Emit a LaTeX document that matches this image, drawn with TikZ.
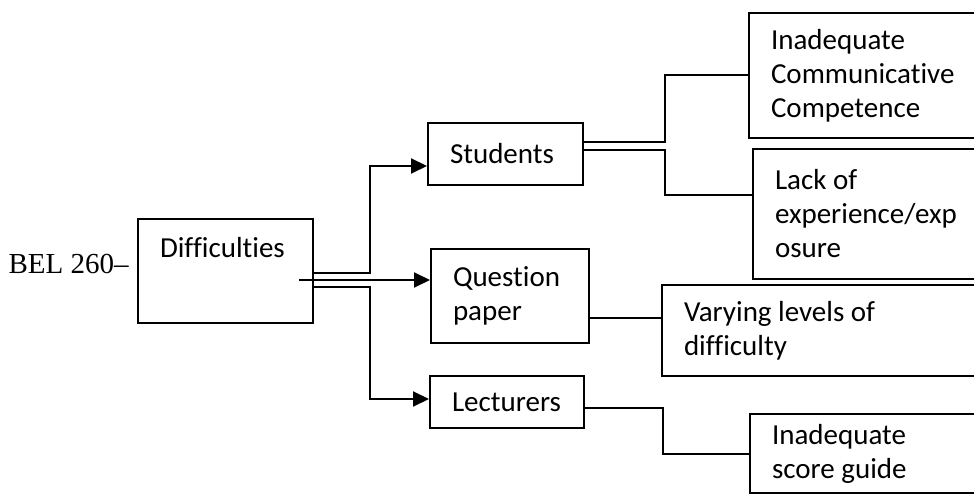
\documentclass[tikz,border=0pt]{standalone}
\usepackage{fontspec}
\setmainfont[Ligatures={NoCommon}]{Carlito}
\newfontfamily\timesfont{Liberation Serif}
\usepackage{tikz}
\usetikzlibrary{positioning}
\usetikzlibrary{arrows.meta}

\begin{document}
\begin{tikzpicture}[x=0.5pt, y=-0.5pt,
  box/.style={draw, black, line width=1pt, anchor=north west, align=flush left,
    inner xsep=11pt, inner ysep=0pt, font=\fontsize{14.5}{17}\selectfont},
  link/.style={black, line width=1pt},
  arr/.style={link, -{Triangle[length=8pt,width=7.5pt]}}]

\useasboundingbox (0,0) rectangle (974,502);
\clip (0,0) rectangle (974,502);

% left box
\node (diff) at (137,218) [box, text width=65.5pt, text height=19pt, text depth=33pt]{Difficulties};
\node (bel) at (129,273) [anchor=base east, inner sep=0pt, font=\timesfont\fontsize{14.5}{17}\selectfont]{BEL 260–};

% middle boxes
\node (stud) at (427,122) [box, text width=55.5pt, minimum height=31pt]{Students};
\node (ques) at (430,248) [box, text width=57pt, minimum height=47pt]{Question\\paper};
\node (lect) at (429,375) [box, text width=55pt, minimum height=26pt]{Lecturers};

% right boxes (run off the page)
\node (comm) at (748,12) [box, text width=99pt, minimum height=62.5pt]{Inadequate\\Communicative\\Competence};
\node (lack) at (752,148) [box, text width=97pt, minimum height=65pt]{Lack of\\experience/exp\\osure};
\node (vary) at (661,284) [box, text width=142.5pt, minimum height=45.5pt]{Varying levels of\\difficulty};
\node (guide) at (749,413) [box, text width=98.5pt, minimum height=39.5pt]{Inadequate\\score guide};

% Difficulties to the middle
\draw[arr] ([yshift=-1pt]diff.east) -- ++(56,0) |- ([yshift=-6pt]stud.west);
\draw[arr] ([xshift=-7.5pt,yshift=-4.5pt]diff.east) -- ([yshift=8pt]ques.west);
\draw[arr] ([yshift=-8pt]diff.east) -- ++(56,0) |- ([yshift=1.5pt]lect.west);

% middle to the right
\draw[link] ([yshift=6pt]stud.east) -- ++(81,0) |- (comm.west);
\draw[link] ([yshift=2pt]stud.east) -- ++(81,0) |- ([yshift=9.5pt]lack.west);
\draw[link] ([yshift=-11pt]ques.east) -- ([yshift=6.25pt]vary.west);
\draw[link] ([yshift=-3pt]lect.east) -- ++(78,0) |- (guide.west);

\end{tikzpicture}
\end{document}
